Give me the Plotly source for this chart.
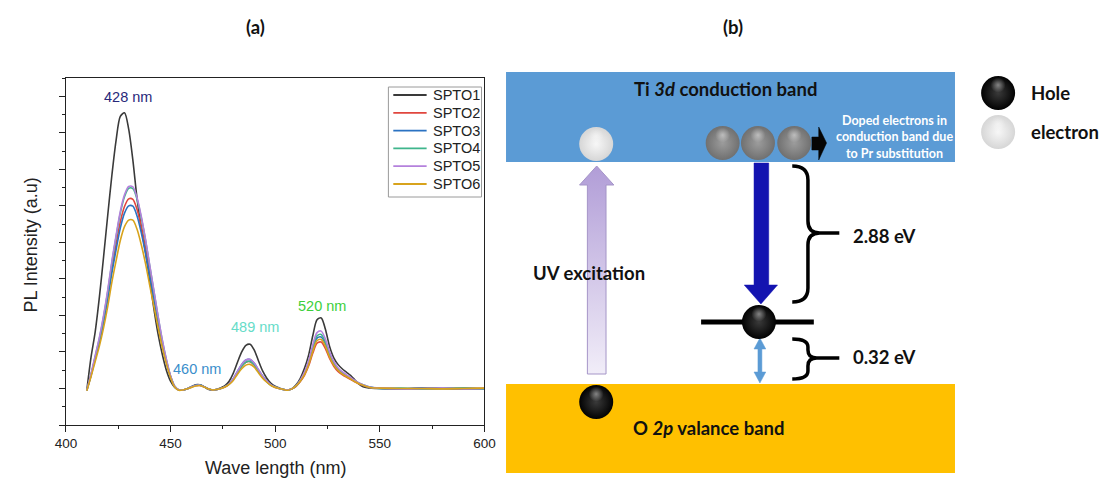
import plotly.graph_objects as go

W, H = 1114, 479

# ---------------------------------------------------------------- PL spectra
wavelength = [
    410, 412, 414, 416, 418, 420, 422, 424, 426, 428, 430, 432, 434, 436, 438,
    440, 442, 444, 446, 448, 450, 452, 454,
    456, 458, 460, 462, 464, 466, 468, 470, 472,
    474, 476, 478, 480, 482, 484, 486, 488, 490, 492, 494, 496, 498, 500, 502, 504,
    506, 508, 510, 512, 514, 516, 518, 520, 522, 524, 526, 528, 530, 532, 534,
    536, 538, 540, 542, 544, 546,
    550, 560, 570, 580, 590, 600,
]

spto1 = [
    -0.05, 0.85, 1.55, 2.5, 3.6, 4.75, 5.85, 6.8, 7.45, 7.55, 7.1, 6.25, 5.2, 4.4, 3.75,
    3.0, 2.2, 1.5, 0.95, 0.5, 0.2, 0.03, -0.04,
    -0.04, -0.01, 0.05, 0.1, 0.1, 0.05, -0.02, -0.05, -0.03,
    0.02, 0.08, 0.2, 0.42, 0.72, 1.0, 1.18, 1.21, 1.05, 0.76, 0.48, 0.28, 0.14, 0.06, 0.01, -0.03,
    -0.04, -0.01, 0.1, 0.28, 0.55, 0.92, 1.45, 1.88, 1.93, 1.62, 1.15, 0.84, 0.66, 0.54, 0.45,
    0.36, 0.24, 0.12, 0.05, 0.02, 0.01,
    0.0, -0.01, 0.01, 0.0, -0.01, 0.0,
]
spto2 = [
    -0.05, 0.37, 0.84, 1.31, 1.88, 2.54, 3.29, 3.95, 4.56, 4.98, 5.19, 5.18, 4.9, 4.44, 3.86,
    3.2, 2.54, 1.88, 1.27, 0.75, 0.33, 0.05, -0.04,
    -0.04, -0.01, 0.04, 0.08, 0.08, 0.05, -0.01, -0.04, -0.03,
    0.0, 0.04, 0.12, 0.25, 0.44, 0.61, 0.72, 0.73, 0.64, 0.48, 0.31, 0.19, 0.09, 0.03, 0.0, -0.03,
    -0.04, -0.01, 0.06, 0.19, 0.36, 0.62, 0.97, 1.24, 1.27, 1.09, 0.82, 0.61, 0.47, 0.38, 0.31,
    0.25, 0.18, 0.13, 0.08, 0.05, 0.02,
    0.01, 0.0, -0.01, 0.0, 0.01, 0.0,
]
spto3 = [
    -0.05, 0.35, 0.81, 1.26, 1.8, 2.44, 3.17, 3.8, 4.39, 4.8, 5.0, 4.99, 4.72, 4.27, 3.71,
    3.08, 2.45, 1.82, 1.23, 0.73, 0.32, 0.05, -0.04,
    -0.04, -0.01, 0.05, 0.09, 0.1, 0.05, -0.01, -0.04, -0.03,
    0.0, 0.05, 0.13, 0.27, 0.47, 0.66, 0.78, 0.79, 0.69, 0.51, 0.34, 0.2, 0.1, 0.04, 0.0, -0.03,
    -0.04, -0.01, 0.07, 0.21, 0.41, 0.68, 1.08, 1.38, 1.41, 1.22, 0.9, 0.67, 0.52, 0.42, 0.35,
    0.28, 0.2, 0.14, 0.09, 0.05, 0.03,
    0.0, -0.01, 0.01, 0.0, 0.0, -0.01,
]
spto4 = [
    -0.05, 0.38, 0.87, 1.37, 1.96, 2.66, 3.45, 4.16, 4.8, 5.25, 5.48, 5.47, 5.18, 4.68, 4.07,
    3.38, 2.68, 1.98, 1.33, 0.79, 0.34, 0.06, -0.04,
    -0.04, -0.01, 0.04, 0.08, 0.09, 0.05, -0.01, -0.04, -0.03,
    0.0, 0.05, 0.12, 0.25, 0.43, 0.61, 0.72, 0.74, 0.65, 0.48, 0.31, 0.18, 0.09, 0.04, 0.0, -0.03,
    -0.04, -0.01, 0.08, 0.22, 0.42, 0.72, 1.13, 1.44, 1.48, 1.27, 0.94, 0.7, 0.54, 0.44, 0.36,
    0.29, 0.21, 0.15, 0.1, 0.06, 0.03,
    0.0, 0.01, -0.01, 0.0, 0.01, -0.01,
]
spto5 = [
    -0.05, 0.4, 0.9, 1.4, 2.0, 2.7, 3.5, 4.2, 4.85, 5.3, 5.53, 5.52, 5.22, 4.72, 4.1,
    3.4, 2.7, 2.0, 1.35, 0.8, 0.35, 0.06, -0.04,
    -0.04, -0.01, 0.04, 0.08, 0.09, 0.05, -0.01, -0.04, -0.03,
    0.0, 0.05, 0.13, 0.27, 0.47, 0.66, 0.78, 0.8, 0.7, 0.52, 0.34, 0.2, 0.1, 0.04, 0.0, -0.03,
    -0.04, -0.01, 0.08, 0.23, 0.45, 0.76, 1.2, 1.53, 1.57, 1.35, 1.0, 0.74, 0.57, 0.46, 0.38,
    0.3, 0.22, 0.15, 0.1, 0.06, 0.03,
    0.01, -0.01, 0.0, 0.01, -0.01, 0.0,
]
spto6 = [
    -0.06, 0.32, 0.74, 1.16, 1.66, 2.25, 2.92, 3.5, 4.05, 4.43, 4.61, 4.61, 4.36, 3.94, 3.43,
    2.84, 2.26, 1.69, 1.14, 0.68, 0.3, 0.04, -0.05,
    -0.04, -0.01, 0.03, 0.07, 0.08, 0.04, -0.01, -0.04, -0.03,
    0.0, 0.04, 0.11, 0.22, 0.39, 0.54, 0.64, 0.66, 0.58, 0.43, 0.28, 0.17, 0.08, 0.03, 0.0, -0.03,
    -0.05, -0.01, 0.07, 0.2, 0.38, 0.65, 1.02, 1.31, 1.34, 1.15, 0.86, 0.64, 0.5, 0.4, 0.33,
    0.26, 0.19, 0.13, 0.09, 0.05, 0.02,
    0.01, 0.0, 0.0, -0.01, 0.0, 0.01,
]

series_names = ["SPTO1", "SPTO2", "SPTO3", "SPTO4", "SPTO5", "SPTO6"]
series_values = [spto1, spto2, spto3, spto4, spto5, spto6]
series_colors = ["#3a3a3a", "#e0463e", "#2b72c2", "#3fb58c", "#b481dc", "#d8a31c"]

x_ticks = [400, 450, 500, 550, 600]

peak_labels = ["428 nm", "460 nm", "489 nm", "520 nm"]
peak_label_x = [429.7, 462.8, 490.3, 522.5]
peak_label_y = [7.98, 0.52, 1.67, 2.25]
peak_label_colors = ["#28287a", "#3a8ecb", "#66dcc8", "#3ccf3c"]

SANS = "Liberation Sans, Arial, sans-serif"
DIAG = "Lato, Noto Sans, sans-serif"

fig = go.Figure()

for name, ys, color in zip(series_names, series_values, series_colors):
    fig.add_trace(go.Scatter(
        x=wavelength, y=ys, mode="lines", name=name, showlegend=False,
        line=dict(color=color, width=1.6, shape="spline", smoothing=0.8),
        xaxis="x", yaxis="y", hoverinfo="skip",
    ))

# left panel box (pixel geometry of the plotting area)
PX0, PX1, PY0, PY1 = 56, 483, 78, 425


def px(xp):
    return xp / W


def py(yp):
    return 1 - yp / H


shapes = []
annotations = []

# peak annotations
for txt, lx, ly, c in zip(peak_labels, peak_label_x, peak_label_y, peak_label_colors):
    annotations.append(dict(x=lx, y=ly, xref="x", yref="y", text=txt, showarrow=False,
                            xanchor="center", yanchor="middle",
                            font=dict(family=SANS, size=14.5, color=c)))

# hand-built legend box
LEG_X0, LEG_X1, LEG_Y0, LEG_Y1 = 385, 480, 87, 197
shapes.append(dict(type="rect", xref="paper", yref="paper", x0=px(LEG_X0), x1=px(LEG_X1),
                   y0=py(LEG_Y1), y1=py(LEG_Y0), line=dict(color="#9a9a9a", width=1),
                   fillcolor="white", layer="above"))
for i, (name, color) in enumerate(zip(series_names, series_colors)):
    yy = 95 + i * 17.8
    shapes.append(dict(type="line", xref="paper", yref="paper", x0=px(390), x1=px(424),
                       y0=py(yy), y1=py(yy), line=dict(color=color, width=1.8), layer="above"))
    annotations.append(dict(x=px(428), y=py(yy), xref="paper", yref="paper", text=name,
                            xanchor="left", yanchor="middle", showarrow=False,
                            font=dict(family=SANS, size=14.5, color="#222")))

# axis titles
annotations.append(dict(x=px(270), y=py(468), xref="paper", yref="paper",
                        xanchor="center", yanchor="middle",
                        text="Wave length (nm)", showarrow=False,
                        font=dict(family=SANS, size=18, color="#222")))
annotations.append(dict(x=px(20), y=py(245), xref="paper", yref="paper",
                        xanchor="center", yanchor="middle",
                        text="PL Intensity (a.u)", showarrow=False, textangle=-90,
                        font=dict(family=SANS, size=18, color="#222")))

# panel letters
for letter, lx in (("(a)", 249), ("(b)", 737)):
    annotations.append(dict(x=px(lx), y=py(27), xref="paper", yref="paper",
                            xanchor="center", yanchor="middle",
                            text=f"<b>{letter}</b>", showarrow=False,
                            font=dict(family=DIAG, size=18.5, color="#111")))

# ------------------------------------------------------ band diagram (panel b)
BAND_X0, BAND_X1 = 505, 963
CB_Y0, CB_Y1 = 72, 162
VB_Y0, VB_Y1 = 384, 473

shapes.append(dict(type="rect", xref="x2", yref="y2", x0=BAND_X0, x1=BAND_X1, y0=CB_Y0, y1=CB_Y1,
                   fillcolor="#5b9bd5", line=dict(width=0), layer="below"))
shapes.append(dict(type="rect", xref="x2", yref="y2", x0=BAND_X0, x1=BAND_X1, y0=VB_Y0, y1=VB_Y1,
                   fillcolor="#ffc000", line=dict(width=0), layer="below"))

# defect level
shapes.append(dict(type="line", xref="x2", yref="y2", x0=704, x1=819, y0=322, y1=322,
                   line=dict(color="black", width=5), layer="below"))

# braces
brace_big = ("M 797 166 Q 813 166 813 180 L 813 221 Q 813 233 825 233 L 845 233 "
             "M 825 233 Q 813 233 813 245 L 813 288 Q 813 302 797 302")
brace_small = ("M 797 339 Q 813 339 813 347 L 813 350 Q 813 358 822 358 L 845 358 "
               "M 822 358 Q 813 358 813 366 L 813 371 Q 813 379 797 379")
for p in (brace_big, brace_small):
    shapes.append(dict(type="path", xref="x2", yref="y2", path=p,
                       line=dict(color="black", width=3.5), layer="above"))

# UV excitation arrow (gradient)
uv_x = [588, 588, 580, 597.5, 615, 607, 607, 588]
uv_y = [374, 185, 185, 166, 185, 185, 374, 374]
fig.add_trace(go.Scatter(
    x=uv_x, y=uv_y, xaxis="x2", yaxis="y2", mode="lines", fill="toself",
    fillgradient=dict(type="vertical", colorscale=[[0, "#f1edf8"], [1, "#b19dd7"]],
                      start=374, stop=166),
    line=dict(color="#a595c8", width=1), showlegend=False, hoverinfo="skip"))

# recombination arrow
rc_x = [758, 773, 773, 782, 765, 748, 758, 758]
rc_y = [163, 163, 285, 285, 304, 285, 285, 163]
fig.add_trace(go.Scatter(
    x=rc_x, y=rc_y, xaxis="x2", yaxis="y2", mode="lines", fill="toself",
    fillcolor="#1313b0", line=dict(color="#1313b0", width=0.5),
    showlegend=False, hoverinfo="skip"))

# 0.32 eV double arrow
da_x = [764, 770, 766, 766, 770, 764, 758, 762, 762, 758, 764]
da_y = [338, 349, 349, 372, 372, 383, 372, 372, 349, 349, 338]
fig.add_trace(go.Scatter(
    x=da_x, y=da_y, xaxis="x2", yaxis="y2", mode="lines", fill="toself",
    fillcolor="#5b9bd5", line=dict(color="#5b9bd5", width=0.5),
    showlegend=False, hoverinfo="skip"))

# doped-electron arrow in the conduction band
ar_x = [817, 824, 824, 832, 824, 824, 817, 817]
ar_y = [137, 137, 127, 143, 160, 150, 150, 137]
fig.add_trace(go.Scatter(
    x=ar_x, y=ar_y, xaxis="x2", yaxis="y2", mode="lines", fill="toself",
    fillcolor="#050505", line=dict(color="#050505", width=0.5),
    showlegend=False, hoverinfo="skip"))

# spheres: (kind, x, y)
spheres = [
    ("white", 597, 144),
    ("gray", 726, 143), ("gray", 762, 143), ("gray", 799, 143),
    ("black", 763, 322),
    ("black", 597, 402),
    ("black", 1007, 93),
    ("white", 1007, 132),
]
sphere_style = {
    "white": ("#d6d6d6", "#f7f7f7"),
    "gray": ("#707070", "#9c9c9c"),
    "black": ("#020202", "#3a3a3a"),
}
for kind, sx, sy in spheres:
    edge, centre = sphere_style[kind]
    fig.add_trace(go.Scatter(
        x=[sx], y=[sy], xaxis="x2", yaxis="y2", mode="markers",
        marker=dict(size=34, color=edge, gradient=dict(type="radial", color=centre),
                    line=dict(width=0)),
        showlegend=False, hoverinfo="skip"))
    fig.add_trace(go.Scatter(
        x=[sx], y=[sy - 8], xaxis="x2", yaxis="y2", mode="markers",
        marker=dict(size=15, color="rgba(255,255,255,0)",
                    gradient=dict(type="radial", color="rgba(255,255,255,0.45)"),
                    line=dict(width=0)),
        showlegend=False, hoverinfo="skip"))

# diagram texts
diag_text = [
    ("<b>Ti <i>3d</i> conduction band</b>", 729, 89, "center", 18.5, "#111"),
    ("<b>O <i>2p</i> valance band</b>", 712, 428, "center", 18.5, "#111"),
    ("<b>UV excitation</b>", 590, 273, "center", 18.5, "#111"),
    ("<b>2.88 eV</b>", 857, 236, "left", 18.5, "#111"),
    ("<b>0.32 eV</b>", 857, 357, "left", 18.5, "#111"),
    ("<b>Hole</b>", 1039, 93, "left", 18.5, "#111"),
    ("<b>electron</b>", 1039, 132, "left", 18.5, "#111"),
    ("<b>Doped electrons in<br>conduction band due<br>to Pr substitution</b>", 901, 137,
     "center", 12.5, "white"),
]
for txt, tx, ty, anchor, size, color in diag_text:
    annotations.append(dict(x=tx, y=ty, xref="x2", yref="y2", text=txt, showarrow=False,
                            xanchor=anchor, yanchor="middle",
                            font=dict(family=DIAG, size=size, color=color)))

fig.update_layout(
    width=W, height=H,
    margin=dict(l=0, r=0, t=0, b=0),
    paper_bgcolor="white", plot_bgcolor="white",
    showlegend=False,
    xaxis=dict(domain=[px(PX0), px(PX1)], range=[400, 600], tickvals=x_ticks,
               ticks="outside", ticklen=6, tickwidth=1.2, tickcolor="#222",
               minor=dict(dtick=25, tick0=400, ticks="outside", ticklen=3,
                          tickcolor="#222", tickwidth=1),
               showline=True, linecolor="#222", linewidth=1.3, mirror=True,
               showgrid=False, zeroline=False,
               tickfont=dict(family=SANS, size=13.5, color="#222"), anchor="y"),
    yaxis=dict(domain=[py(PY1), py(PY0)], range=[-1, 8.5], tick0=-1, dtick=1,
               ticks="outside", ticklen=6, tickwidth=1.2, tickcolor="#222",
               minor=dict(dtick=0.5, tick0=-1, ticks="outside", ticklen=3,
                          tickcolor="#222", tickwidth=1),
               showticklabels=False, showline=True, linecolor="#222", linewidth=1.3,
               mirror=True, showgrid=False, zeroline=False, anchor="x"),
    xaxis2=dict(domain=[px(500), 1], range=[500, W], visible=False, anchor="y2",
                fixedrange=True),
    yaxis2=dict(domain=[0, 1], range=[H, 0], visible=False, anchor="x2",
                fixedrange=True),
    shapes=shapes,
    annotations=annotations,
)

fig.write_html("out.html")
